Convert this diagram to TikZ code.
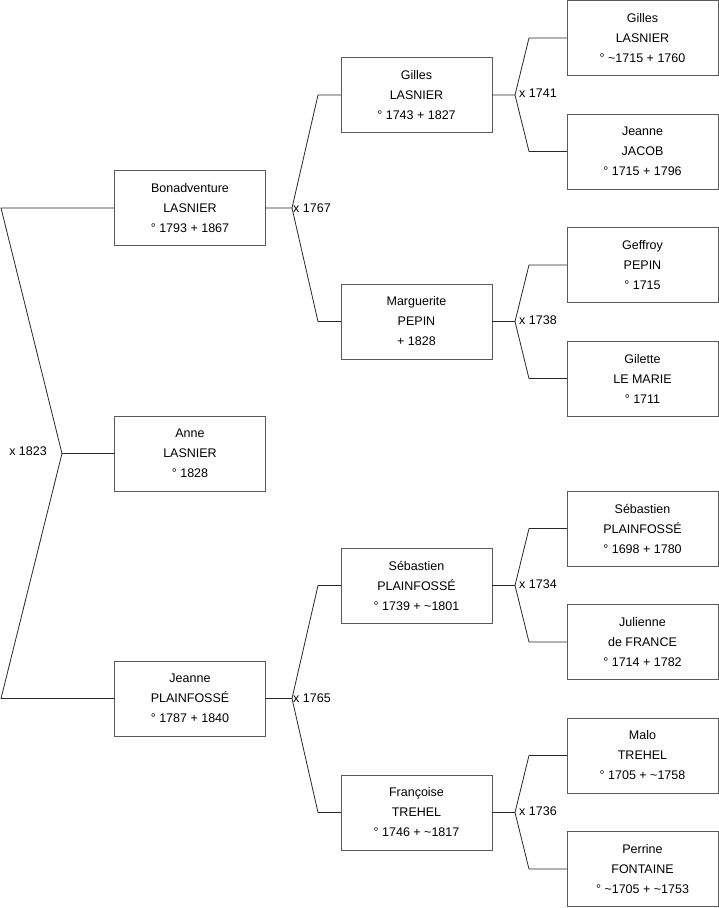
\documentclass[tikz,border=0pt]{standalone}
\usepackage{fontspec}
\setmainfont{Liberation Sans}
\usetikzlibrary{positioning}
\definecolor{frame}{RGB}{90,90,90}
\definecolor{wire}{RGB}{40,40,40}
\newcommand{\abt}{\textasciitilde}
\tikzset{
  person/.style={draw=frame, fill=white, align=center, minimum width=151pt, minimum height=75pt, inner sep=0pt, font=\fontsize{12.5}{20}\selectfont},
  link/.style={draw=wire, line width=0.8pt, line join=round},
  wed/.style={font=\fontsize{12.5}{15}\selectfont, inner sep=1pt}
}
\begin{document}
\begin{tikzpicture}[x=1pt, y=-1pt]
    \useasboundingbox (0,0) rectangle (719,908);
    % generation 1
    \node[person] (bona) at (190,208) {Bonadventure\\ LASNIER\\ ° 1793 + 1867};
    \node[person] (anne) at (190,453.5) {Anne\\ LASNIER\\ ° 1828};
    \node[person] (jeanne) at (190,698.5) {Jeanne\\ PLAINFOSSÉ\\ ° 1787 + 1840};
    % generation 2
    \node[person] (gilles) at (416.5,95) {Gilles\\ LASNIER\\ ° 1743 + 1827};
    \node[person] (marg) at (416.5,321.5) {Marguerite\\ PEPIN\\ + 1828};
    \node[person] (seb) at (416.5,585.5) {Sébastien\\ PLAINFOSSÉ\\ ° 1739 + \abt1801};
    \node[person] (franc) at (416.5,812.5) {Françoise\\ TREHEL\\ ° 1746 + \abt1817};
    % generation 3
    \node[person] (gillesB) at (642.5,38) {Gilles\\ LASNIER\\ ° \abt1715 + 1760};
    \node[person] (jeanneB) at (642.5,151.5) {Jeanne\\ JACOB\\ ° 1715 + 1796};
    \node[person] (geff) at (642.5,265) {Geffroy\\ PEPIN\\ ° 1715};
    \node[person] (gilette) at (642.5,378.5) {Gilette\\ LE MARIE\\ ° 1711};
    \node[person] (sebB) at (642.5,528.5) {Sébastien\\ PLAINFOSSÉ\\ ° 1698 + 1780};
    \node[person] (julienne) at (642.5,642) {Julienne\\ de FRANCE\\ ° 1714 + 1782};
    \node[person] (malo) at (642.5,755.5) {Malo\\ TREHEL\\ ° 1705 + \abt1758};
    \node[person] (perrine) at (642.5,869) {Perrine\\ FONTAINE\\ ° \abt1705 + \abt1753};
    % couples
    \coordinate (j0) at (62,453.5);
    \coordinate (j0a) at (1,208);
    \coordinate (j0b) at (1,698.5);
    \draw[link] (anne.west) -- (j0) -- (j0a) -- (bona.west);
    \draw[link] (j0) -- (j0b) -- (jeanne.west);
    \node[wed, anchor=east] at (48,451) {x 1823};

    \coordinate (j1) at (292,208);
    \draw[link] (bona.east) -- (j1) -- (318,95) -- (gilles.west);
    \draw[link] (j1) -- (318,321.5) -- (marg.west);
    \node[wed, anchor=west] at (j1) {x 1767};

    \coordinate (j2) at (292,698.5);
    \draw[link] (jeanne.east) -- (j2) -- (318,585.5) -- (seb.west);
    \draw[link] (j2) -- (318,812.5) -- (franc.west);
    \node[wed, anchor=west] at (j2) {x 1765};

    \coordinate (j3) at (515,95);
    \draw[link] (gilles.east) -- (j3) -- (529,38) -- (gillesB.west);
    \draw[link] (j3) -- (529,151.5) -- (jeanneB.west);
    \node[wed, anchor=west] at (518,93) {x 1741};

    \coordinate (j4) at (515,321.5);
    \draw[link] (marg.east) -- (j4) -- (529,265) -- (geff.west);
    \draw[link] (j4) -- (529,378.5) -- (gilette.west);
    \node[wed, anchor=west] at (518,320) {x 1738};

    \coordinate (j5) at (515,585.5);
    \draw[link] (seb.east) -- (j5) -- (529,528.5) -- (sebB.west);
    \draw[link] (j5) -- (529,642) -- (julienne.west);
    \node[wed, anchor=west] at (518,584) {x 1734};

    \coordinate (j6) at (515,812.5);
    \draw[link] (franc.east) -- (j6) -- (529,755.5) -- (malo.west);
    \draw[link] (j6) -- (529,869) -- (perrine.west);
    \node[wed, anchor=west] at (518,811) {x 1736};
\end{tikzpicture}
\end{document}
